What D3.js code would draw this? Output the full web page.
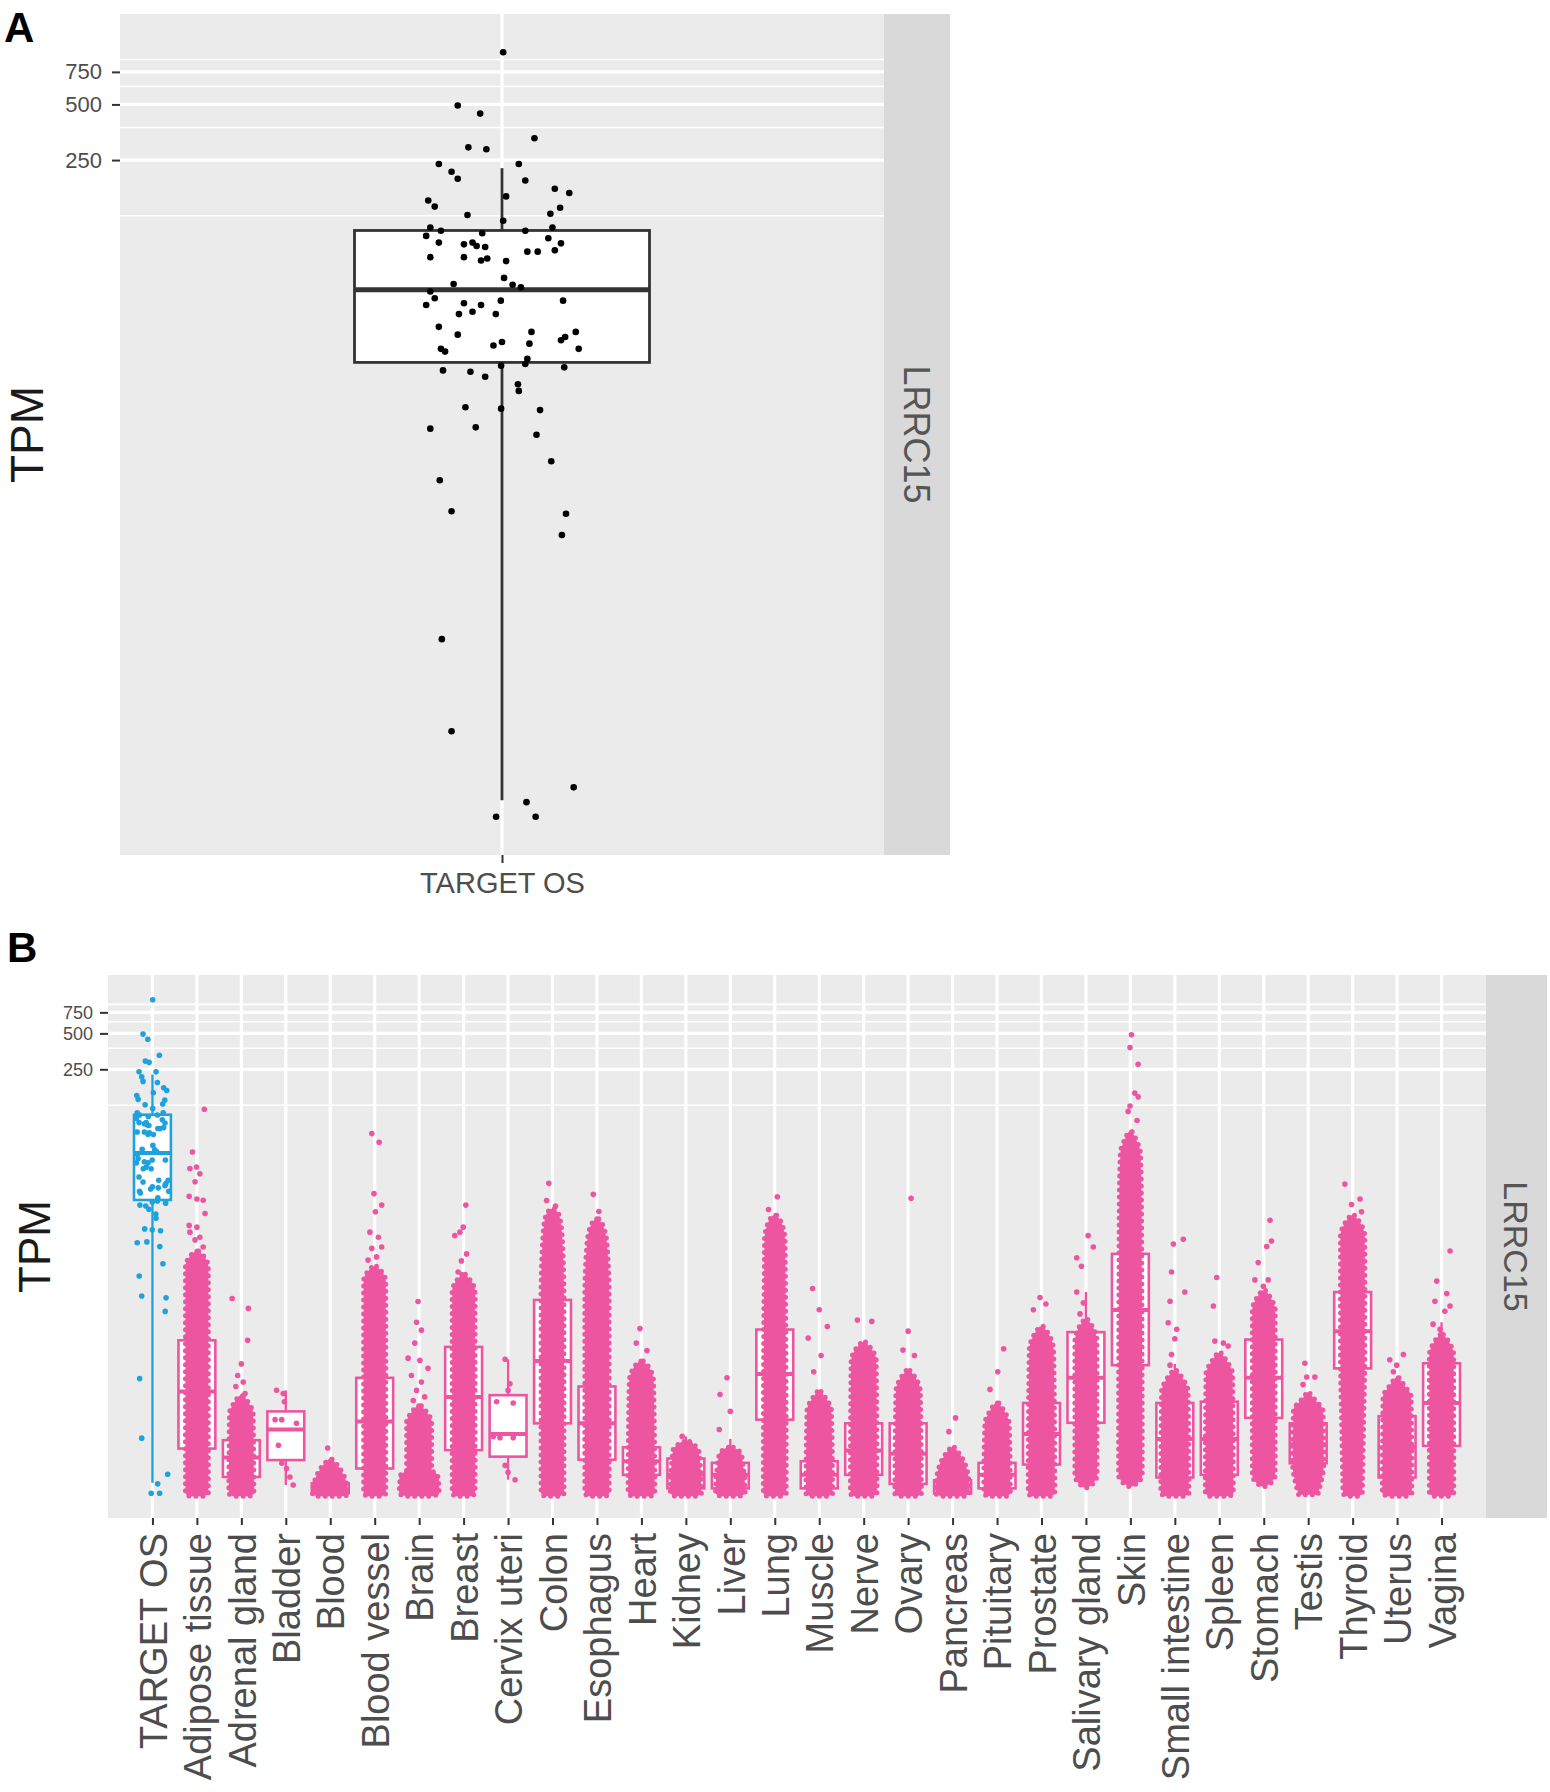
<!DOCTYPE html>
<html><head><meta charset="utf-8">
<script src="https://cdn.jsdelivr.net/npm/d3@7"></script>
<style>body{margin:0;background:#fff;} svg{display:block;font-family:"Liberation Sans",Arial,Helvetica,sans-serif;}</style>
</head><body>
<svg id="chart" width="1550" height="1792"></svg>
<script>
// ---------------- DATA ----------------
const geneName = "LRRC15";
const yMajorTicks = [250, 500, 750];
const yMinorTicks = [125, 375, 625, 875];

// TARGET OS samples (TPM) and their horizontal jitter (fraction of box width)
const targetTPM = [958,493,446,328,293,286,238,238,216,198,
  194,159,175,166,151,140,126,128,138,117.5,
  108,103.6,108,103.6,100.5,97.2,89.4,87.5,89.4,85.7,
  84.6,94.4,88.6,81.2,74.6,74.6,71.5,73.4,71.0,79.9,
  79.9,57.6,52.9,51.2,53.4,48.6,44.7,41.1,42.0,37.8,
  41.1,36.7,36.7,43.4,43.4,31.3,28.4,29.4,23.8,23.0,
  24.8,25.9,25.4,26.5,29.4,27.6,23.8,18.2,17.9,16.8,
  19.3,19.7,21.0,18.9,15.3,14.1,11.5,11.3,11.1,8.81,
  8.95,8.17,5.87,4.63,3.15,3.05,2.34,0.64,0.203,0.101,
  0.084,0.070,0.070];
const targetJitter = [0.004,-0.15,-0.074,0.11,-0.114,-0.053,-0.214,0.057,-0.171,-0.15,
  0.079,0.014,0.179,0.228,-0.25,-0.228,-0.117,0.164,0.197,0.004,
  -0.243,-0.207,0.171,0.079,-0.067,-0.257,-0.214,-0.129,-0.1,-0.086,
  -0.057,0.157,0.2,0.179,-0.243,-0.129,-0.071,-0.05,0.014,0.086,
  0.121,0.007,0.036,0.064,-0.164,-0.243,-0.228,-0.257,-0.129,-0.1,
  -0.071,-0.146,-0.021,-0.004,0.207,-0.214,-0.15,0.1,-0.207,-0.193,
  -0.029,0,0.093,0.2,0.25,0.214,0.26,-0.2,-0.107,-0.057,
  -0.003,0.079,0.086,0.211,0.054,0.057,-0.124,-0.003,0.129,-0.243,
  -0.089,0.117,0.167,-0.211,-0.171,0.217,0.203,-0.204,-0.171,0.243,
  0.083,-0.02,0.114];

const tissues = ["TARGET OS","Adipose tissue","Adrenal gland","Bladder","Blood","Blood vessel","Brain","Breast","Cervix uteri","Colon","Esophagus","Heart","Kidney","Liver","Lung","Muscle","Nerve","Ovary","Pancreas","Pituitary","Prostate","Salivary gland","Skin","Small intestine","Spleen","Stomach","Testis","Thyroid","Uterus","Vagina"];

const boxQ3     = [104,1.34,0.195,0.34,0.085,0.65,0.096,1.18,0.465,2.92,0.55,0.17,0.137,0.126,1.65,0.13,0.27,0.27,0.09,0.126,0.4,1.57,7.1,0.4,0.41,1.36,0.27,3.4,0.31,0.86];
const boxMedian = [49.7,0.5,0.14,0.24,0.075,0.28,0.08,0.45,0.22,0.9,0.27,0.13,0.1,0.1,0.7,0.1,0.16,0.15,0.08,0.1,0.22,0.65,2.4,0.2,0.2,0.65,0.18,1.6,0.17,0.4];
const boxQ1     = [20.1,0.166,0.096,0.133,0.07,0.113,0.07,0.161,0.142,0.27,0.134,0.1,0.077,0.077,0.29,0.077,0.1,0.084,0.07,0.077,0.122,0.273,0.83,0.095,0.1,0.3,0.125,0.78,0.095,0.175];
const whiskerHigh = [226,3.1,0.34,0.51,0.11,1.45,0.14,2.7,0.93,6.9,1.2,0.28,0.21,0.2,3.7,0.21,0.53,0.55,0.12,0.2,0.8,3.4,16,0.85,0.88,2.9,0.49,7.4,0.63,1.9];
const whiskerLow  = [0.086,0.07,0.07,0.082,0.07,0.07,0.07,0.07,0.091,0.07,0.07,0.07,0.07,0.07,0.07,0.07,0.07,0.07,0.07,0.07,0.07,0.08,0.083,0.07,0.07,0.08,0.07,0.07,0.07,0.07];

// dense part of each GTEx cloud: [TPM, half spread as fraction of box width]
const cloudProfiles = [
  null,
  [[7.5,0.05],[6.6,0.22],[5.5,0.31],[0.07,0.31],[0.066,0.2]],
  [[0.46,0.06],[0.4,0.2],[0.33,0.32],[0.07,0.34],[0.066,0.22]],
  null,
  [[0.135,0.05],[0.12,0.2],[0.1,0.36],[0.08,0.46],[0.068,0.48],[0.066,0.3]],
  [[5.6,0.05],[5.0,0.2],[4.2,0.3],[0.07,0.3],[0.066,0.2]],
  [[0.38,0.06],[0.33,0.22],[0.28,0.34],[0.11,0.34],[0.1,0.5],[0.07,0.54],[0.066,0.35]],
  [[4.8,0.05],[4.2,0.2],[3.5,0.31],[0.07,0.31],[0.066,0.2]],
  null,
  [[17,0.05],[15,0.18],[10,0.26],[3,0.31],[0.07,0.31],[0.066,0.2]],
  [[14,0.05],[12,0.18],[8,0.28],[3,0.33],[0.07,0.33],[0.066,0.22]],
  [[0.9,0.05],[0.8,0.2],[0.6,0.33],[0.07,0.36],[0.066,0.25]],
  [[0.19,0.1],[0.16,0.35],[0.07,0.42],[0.066,0.28]],
  [[0.17,0.08],[0.15,0.3],[0.07,0.4],[0.066,0.25]],
  [[15,0.05],[13,0.18],[9,0.28],[0.07,0.31],[0.066,0.2]],
  [[0.5,0.05],[0.43,0.2],[0.35,0.33],[0.07,0.36],[0.066,0.25]],
  [[1.3,0.05],[1.15,0.2],[0.9,0.34],[0.07,0.36],[0.066,0.25]],
  [[0.75,0.05],[0.65,0.2],[0.5,0.33],[0.07,0.36],[0.066,0.25]],
  [[0.17,0.05],[0.14,0.25],[0.1,0.42],[0.07,0.46],[0.066,0.3]],
  [[0.4,0.05],[0.34,0.2],[0.27,0.33],[0.07,0.36],[0.066,0.25]],
  [[1.75,0.05],[1.5,0.2],[1.1,0.33],[0.07,0.36],[0.066,0.25]],
  [[2.0,0.05],[1.7,0.2],[1.3,0.3],[0.1,0.3],[0.085,0.2],[0.078,0.05]],
  [[75,0.05],[65,0.15],[50,0.27],[20,0.3],[0.1,0.32],[0.086,0.2],[0.08,0.05]],
  [[0.75,0.05],[0.65,0.2],[0.5,0.36],[0.07,0.38],[0.066,0.25]],
  [[1.05,0.05],[0.9,0.2],[0.7,0.36],[0.07,0.38],[0.066,0.25]],
  [[3.5,0.05],[3.0,0.2],[2.4,0.31],[0.1,0.31],[0.086,0.2],[0.08,0.05]],
  [[0.48,0.05],[0.42,0.2],[0.35,0.4],[0.12,0.42],[0.08,0.32],[0.068,0.26]],
  [[15,0.05],[13,0.2],[10,0.33],[1,0.33],[0.3,0.3],[0.1,0.27],[0.07,0.26],[0.066,0.16]],
  [[0.65,0.05],[0.56,0.2],[0.45,0.38],[0.07,0.4],[0.066,0.25]],
  [[1.5,0.05],[1.3,0.2],[1.0,0.33],[0.07,0.33],[0.066,0.2]]
];

// individually visible GTEx samples: [TPM, jitter as fraction of box width]
const sparsePoints = [
  [],
  [[115.6,0.2],[50.7,-0.12],[36.8,-0.19],[38,-0.01],[33.3,0.08],[28.6,-0.05],[21.6,-0.21],[20.5,0],[20,0.17],[15.5,0.22],[12.3,-0.21],[11.9,0],[10.8,-0.19],[9.8,0.08],[9.3,-0.05],[8.1,0.17]],
  [[3.0,-0.25],[2.48,0.19],[1.34,0.17],[0.85,0],[0.68,-0.1],[0.6,0.05],[0.55,-0.15],[0.48,0.1]],
  [[0.512,-0.25],[0.48,-0.07],[0.41,-0.04],[0.29,-0.29],[0.29,-0.11],[0.27,0.29],[0.177,-0.2],[0.125,-0.11],[0.113,0.02],[0.096,0.11],[0.082,0.2]],
  [[0.168,-0.07]],
  [[72.3,-0.08],[61.2,0.12],[22.7,-0.02],[18.2,0.19],[16,0.02],[10.8,-0.13],[9.8,0.1],[7.9,-0.08],[8.1,0.19],[6.7,0.05],[6.3,-0.18]],
  [[2.83,-0.03],[1.9,-0.07],[1.63,0.06],[1.27,-0.12],[0.95,-0.3],[0.91,0.02],[0.78,0.24],[0.68,-0.21],[0.6,0.06],[0.51,-0.07],[0.45,0.15],[0.42,-0.16]],
  [[18.2,0.06],[11.9,-0.01],[10.1,-0.24],[10.8,-0.1],[7.1,0.08],[6.2,-0.06],[5.0,-0.15]],
  [[0.93,-0.08],[0.58,0.05],[0.51,0],[0.41,-0.31],[0.4,0.14],[0.21,-0.4],[0.205,-0.22],[0.205,0.14],[0.12,-0.08],[0.105,0],[0.091,0.19]],
  [[27.7,-0.1],[19.9,-0.16],[17.9,0.08]],
  [[22.4,-0.1],[16.1,0.05]],
  [[1.68,-0.04],[1.27,-0.14],[1.1,0.15]],
  [[0.21,-0.1],[0.18,0.12]],
  [[0.65,-0.09],[0.47,-0.28],[0.34,0],[0.24,-0.3]],
  [[21.4,0.07],[16.7,-0.17]],
  [[3.64,-0.18],[2.42,0],[1.75,0.22],[1.4,-0.3],[1.0,0.05],[0.73,-0.15]],
  [[1.98,-0.17],[1.93,0.22]],
  [[20.8,0.08],[1.6,0],[1.11,-0.14],[1.0,0.17]],
  [[0.3,0.08],[0.23,-0.1]],
  [[1.14,0.18],[0.73,0.02],[0.52,-0.19]],
  [[3.06,-0.04],[2.42,-0.22],[2.7,0.12]],
  [[10.1,0.06],[8.1,0.2],[6.6,-0.25],[5.6,-0.12],[3.4,-0.25],[2.76,-0.07],[2.23,-0.16]],
  [[486,0.03],[380,-0.01],[276,0.21],[158,0.12],[147,0.21],[123,-0.01],[111,-0.06],[93,0.18]],
  [[8.6,-0.04],[9.4,0.23],[5.0,-0.09],[3.4,0.27],[2.85,-0.13],[1.88,-0.18],[1.66,0.05],[1.38,0],[1.02,-0.09],[0.83,-0.13]],
  [[4.5,-0.07],[2.6,-0.16],[1.32,-0.12],[1.27,0.11],[1.2,0.24]],
  [[13.6,0.17],[9.1,0.21],[8.2,0.08],[6.0,-0.15],[4.3,0.12],[4.3,-0.24],[3.8,-0.01]],
  [[0.86,-0.09],[0.66,-0.04],[0.66,0.18],[0.57,-0.14]],
  [[27.3,-0.21],[20.5,0.2],[18.4,-0.03],[16,0.24]],
  [[1.02,0.17],[0.92,-0.2],[0.83,-0.01],[0.73,-0.1]],
  [[7.5,0.23],[4.2,-0.13],[3.3,0.14],[2.85,-0.18],[2.6,0.23],[2.35,0.09],[1.83,-0.23],[1.66,-0.04]]
];

// ---------------- STYLE / LAYOUT ----------------
const PINK = "#ee55a0", BLUE = "#1ea2dd";
const PANEL_BG = "#ebebeb", STRIP_BG = "#d9d9d9";
const PA = {left:120, right:884, top:14, bottom:855, stripRight:950};
const PB = {left:108, right:1486, top:975, bottom:1518, stripRight:1547};
const FONT = '"Liberation Sans", Arial, Helvetica, sans-serif';

const svg = d3.select("#chart");

const ext = d3.extent(targetTPM);
const span = Math.log(ext[1] / ext[0]);
const yDomain = [ext[0] * Math.exp(-0.05 * span), ext[1] * Math.exp(0.05 * span)];

const yA = d3.scaleLog().domain(yDomain).range([PA.bottom, PA.top]);
const yB = d3.scaleLog().domain(yDomain).range([PB.bottom, PB.top]);
const xA = d3.scalePoint().domain([tissues[0]]).range([PA.left, PA.right]).padding(0.5);
const xB = d3.scalePoint().domain(tissues).range([PB.left, PB.right]).padding(1);

function panelBackground(g, P, y, xs, xVals, stripFont) {
  g.append("rect").attr("x", P.left).attr("y", P.top)
    .attr("width", P.right - P.left).attr("height", P.bottom - P.top).attr("fill", PANEL_BG);
  const inDom = v => v >= yDomain[0] && v <= yDomain[1];
  g.append("g").selectAll("line").data(yMinorTicks.filter(inDom)).join("line")
    .attr("x1", P.left).attr("x2", P.right).attr("y1", d => y(d)).attr("y2", d => y(d))
    .attr("stroke", "#fff").attr("stroke-width", 1.6);
  g.append("g").selectAll("line").data(yMajorTicks.filter(inDom)).join("line")
    .attr("x1", P.left).attr("x2", P.right).attr("y1", d => y(d)).attr("y2", d => y(d))
    .attr("stroke", "#fff").attr("stroke-width", 3.2);
  g.append("g").selectAll("line").data(xVals).join("line")
    .attr("x1", d => xs(d)).attr("x2", d => xs(d)).attr("y1", P.top).attr("y2", P.bottom)
    .attr("stroke", "#fff").attr("stroke-width", 3.2);
  g.append("rect").attr("x", P.right).attr("y", P.top)
    .attr("width", P.stripRight - P.right).attr("height", P.bottom - P.top).attr("fill", STRIP_BG);
  g.append("text")
    .attr("transform", `translate(${(P.right + P.stripRight) / 2},${(P.top + P.bottom) / 2}) rotate(90)`)
    .attr("text-anchor", "middle").attr("dy", "0.36em")
    .attr("font-size", stripFont).attr("fill", "#555").attr("font-family", FONT)
    .text(geneName);
}

function styleAxis(g, fontSize) {
  g.select(".domain").remove();
  g.attr("font-family", null).attr("font-size", null);
  g.selectAll(".tick line").attr("stroke", "#333").attr("stroke-width", 2);
  g.selectAll(".tick text").attr("fill", "#4d4d4d").attr("font-size", fontSize).attr("font-family", FONT);
}

// ---------------- PANEL A ----------------
const gA = svg.append("g");
panelBackground(gA, PA, yA, xA, [tissues[0]], 36);

gA.append("g").attr("transform", `translate(${PA.left},0)`)
  .call(d3.axisLeft(yA).tickValues(yMajorTicks).tickSize(8).tickPadding(10).tickFormat(d3.format("d")))
  .call(g => styleAxis(g, 22));
gA.append("g").attr("transform", `translate(0,${PA.bottom})`)
  .call(d3.axisBottom(xA).tickSize(8).tickPadding(9))
  .call(g => styleAxis(g, 29));

{
  const c = xA(tissues[0]), bw = 295;
  const gb = gA.append("g");
  gb.append("line").attr("x1", c).attr("x2", c).attr("y1", yA(whiskerHigh[0])).attr("y2", yA(boxQ3[0]))
    .attr("stroke", "#333").attr("stroke-width", 2.8);
  gb.append("line").attr("x1", c).attr("x2", c).attr("y1", yA(boxQ1[0])).attr("y2", yA(whiskerLow[0]))
    .attr("stroke", "#333").attr("stroke-width", 2.8);
  gb.append("rect").attr("x", c - bw / 2).attr("y", yA(boxQ3[0])).attr("width", bw)
    .attr("height", yA(boxQ1[0]) - yA(boxQ3[0])).attr("fill", "#fff").attr("stroke", "#333").attr("stroke-width", 2.8);
  gb.append("line").attr("x1", c - bw / 2).attr("x2", c + bw / 2).attr("y1", yA(boxMedian[0])).attr("y2", yA(boxMedian[0]))
    .attr("stroke", "#333").attr("stroke-width", 5);
  gA.append("g").selectAll("circle").data(targetTPM).join("circle")
    .attr("cx", (d, i) => c + targetJitter[i] * bw).attr("cy", d => yA(d)).attr("r", 3.3).attr("fill", "#000");
}

svg.append("text").attr("x", 4).attr("y", 42).attr("font-size", 42).attr("font-weight", "bold")
  .attr("font-family", FONT).attr("fill", "#000").text("A");
svg.append("text").attr("transform", `translate(43,${(PA.top + PA.bottom) / 2}) rotate(-90)`)
  .attr("text-anchor", "middle").attr("font-size", 46).attr("font-family", FONT).attr("fill", "#1a1a1a").text("TPM");

// ---------------- PANEL B ----------------
const gB = svg.append("g");
panelBackground(gB, PB, yB, xB, tissues, 34);

gB.append("g").attr("transform", `translate(${PB.left},0)`)
  .call(d3.axisLeft(yB).tickValues(yMajorTicks).tickSize(8).tickPadding(7).tickFormat(d3.format("d")))
  .call(g => styleAxis(g, 18));
gB.append("g").attr("transform", `translate(0,${PB.bottom})`)
  .call(d3.axisBottom(xB).tickSize(7).tickPadding(0))
  .call(g => styleAxis(g, 38))
  .call(g => g.selectAll(".tick text").attr("transform", "rotate(-90)").attr("text-anchor", "end")
    .attr("x", -15).attr("y", 0).attr("dy", "0.36em"));

const bwB = xB.step() * 0.83;
tissues.forEach((t, i) => {
  const c = xB(t), col = i === 0 ? BLUE : PINK;
  const g = gB.append("g");
  g.append("line").attr("x1", c).attr("x2", c).attr("y1", yB(whiskerHigh[i])).attr("y2", yB(boxQ3[i]))
    .attr("stroke", col).attr("stroke-width", 2.4);
  g.append("line").attr("x1", c).attr("x2", c).attr("y1", yB(boxQ1[i])).attr("y2", yB(whiskerLow[i]))
    .attr("stroke", col).attr("stroke-width", 2.4);
  g.append("rect").attr("x", c - bwB / 2).attr("y", yB(boxQ3[i])).attr("width", bwB)
    .attr("height", Math.max(1, yB(boxQ1[i]) - yB(boxQ3[i]))).attr("fill", "#fff").attr("stroke", col).attr("stroke-width", 2.6);
  g.append("line").attr("x1", c - bwB / 2).attr("x2", c + bwB / 2).attr("y1", yB(boxMedian[i])).attr("y2", yB(boxMedian[i]))
    .attr("stroke", col).attr("stroke-width", 4);
  if (cloudProfiles[i]) {
    const area = d3.area().curve(d3.curveMonotoneY)
      .x0(d => c - d[1] * bwB).x1(d => c + d[1] * bwB).y(d => yB(d[0]));
    // dense cloud body, with a dotted rim that mimics the jittered sample edge
    g.append("path").datum(cloudProfiles[i]).attr("d", area)
      .attr("fill", col).attr("stroke", col).attr("stroke-width", 5)
      .attr("stroke-dasharray", "0,7").attr("stroke-linecap", "round").attr("stroke-linejoin", "round");
  }
  if (i === 0) {
    g.append("g").selectAll("circle").data(targetTPM).join("circle")
      .attr("cx", (d, k) => c + targetJitter[k] * bwB * 1.7).attr("cy", d => yB(d)).attr("r", 2.8).attr("fill", col);
  } else {
    g.append("g").selectAll("circle").data(sparsePoints[i]).join("circle")
      .attr("cx", d => c + d[1] * bwB).attr("cy", d => yB(d[0])).attr("r", 2.8).attr("fill", col);
  }
});

svg.append("text").attr("x", 7).attr("y", 962).attr("font-size", 42).attr("font-weight", "bold")
  .attr("font-family", FONT).attr("fill", "#000").text("B");
svg.append("text").attr("transform", `translate(50,${(PB.top + PB.bottom) / 2}) rotate(-90)`)
  .attr("text-anchor", "middle").attr("font-size", 44).attr("font-family", FONT).attr("fill", "#1a1a1a").text("TPM");
</script></body></html>
